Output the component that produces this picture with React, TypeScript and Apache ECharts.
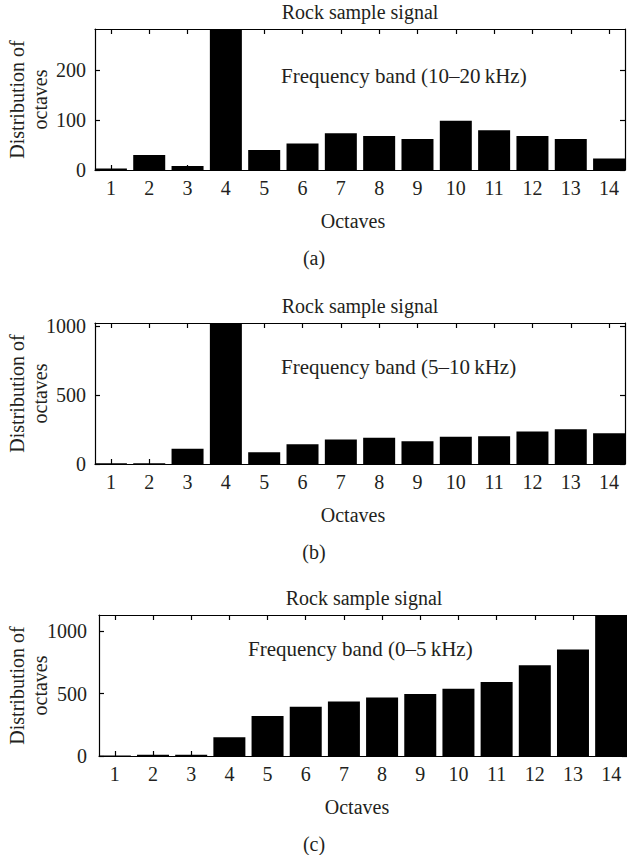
import React, { useEffect, useRef } from "react";
import * as echarts from "echarts";

const octaves = [1, 2, 3, 4, 5, 6, 7, 8, 9, 10, 11, 12, 13, 14];
const bandA = [3, 30, 8, 300, 40, 53, 74, 68, 62, 99, 80, 68, 62, 23];
const bandB = [5, 5, 111, 1100, 86, 143, 177, 190, 165, 197, 202, 236, 251, 222];
const bandC = [4, 10, 10, 150, 320, 394, 437, 469, 496, 539, 592, 727, 853, 1200];
const yTicksA = [0, 100, 200];
const yTicksB = [0, 500, 1000];
const yTicksC = [0, 500, 1000];
const titles = ["Rock sample signal", "Rock sample signal", "Rock sample signal"];
const bandLabels = ["Frequency band (10–20\u2009kHz)", "Frequency band (5–10\u2009kHz)", "Frequency band (0–5\u2009kHz)"];
const panelTags = ["(a)", "(b)", "(c)"];
const yMaxes = [283, 1022, 1128];

const FONT = '"Liberation Serif", "Times New Roman", "DejaVu Serif", serif';
const INK = "#231f20";

export default function App() {
  const ref = useRef<HTMLDivElement>(null);
  useEffect(() => {
    document.body.style.margin = "0";
    if (!ref.current) return;
    const chart = echarts.init(ref.current, undefined, { renderer: "svg" });

    const layouts = [
      { left: 95, top: 29, width: 530, height: 141, labelMargin: 9, annX: 281, annY: 76, octX: 353, tagX: 314 },
      { left: 95, top: 323, width: 530, height: 141, labelMargin: 9, annX: 281, annY: 367, octX: 353, tagX: 314 },
      { left: 99, top: 615, width: 530, height: 141, labelMargin: 12, annX: 248, annY: 649, octX: 357, tagX: 314 },
    ];
    const values = [bandA, bandB, bandC];
    const yTicks = [yTicksA, yTicksB, yTicksC];

    const grid: any[] = [];
    const xAxis: any[] = [];
    const yAxis: any[] = [];
    const series: any[] = [];
    const graphic: any[] = [];

    const lineStyle = { color: "#000", width: 1.2 };
    const textStyle = { fontFamily: FONT, fontSize: 20, color: INK };

    layouts.forEach((L, i) => {
      grid.push({ left: L.left, top: L.top, width: L.width, height: L.height, containLabel: false });
      const xBase = {
        type: "value",
        gridIndex: i,
        min: 0.585,
        max: 14.415,
        splitLine: { show: false },
        axisLine: { show: true, onZero: false, lineStyle },
        axisTick: { show: true, inside: true, length: 5, lineStyle, customValues: octaves },
      };
      xAxis.push({
        ...xBase,
        position: "bottom",
        axisLabel: { show: true, customValues: octaves, margin: 8, formatter: (v: number) => String(v), ...textStyle },
      });
      xAxis.push({ ...xBase, position: "top", axisLabel: { show: false } });
      const yBase = {
        type: "value",
        gridIndex: i,
        min: 0,
        max: yMaxes[i],
        splitLine: { show: false },
        axisLine: { show: true, onZero: false, lineStyle },
        axisTick: { show: true, inside: true, length: 5, lineStyle, customValues: yTicks[i] },
      };
      yAxis.push({
        ...yBase,
        position: "left",
        axisLabel: {
          show: true,
          customValues: yTicks[i],
          margin: L.labelMargin,
          formatter: (v: number) => String(v),
          ...textStyle,
        },
      });
      yAxis.push({ ...yBase, position: "right", axisLabel: { show: false } });

      series.push({
        type: "bar",
        xAxisIndex: i * 2,
        yAxisIndex: i * 2,
        barWidth: 32,
        clip: true,
        itemStyle: { color: "#000" },
        data: octaves.map((o, k) => [o, values[i][k]]),
      });

      const cx = L.left + L.width / 2;
      const bottom = L.top + L.height;
      graphic.push({
        type: "text",
        x: cx,
        y: L.top - 17,
        style: { text: titles[i], align: "center", verticalAlign: "middle", font: `20px ${FONT}`, fill: INK },
      });
      graphic.push({
        type: "text",
        x: L.annX,
        y: L.annY,
        style: { text: bandLabels[i], align: "left", verticalAlign: "middle", font: `21px ${FONT}`, fill: INK },
      });
      graphic.push({
        type: "text",
        x: L.octX,
        y: bottom + 51,
        style: { text: "Octaves", align: "center", verticalAlign: "middle", font: `20px ${FONT}`, fill: INK },
      });
      graphic.push({
        type: "text",
        x: L.tagX,
        y: bottom + 88,
        style: { text: panelTags[i], align: "center", verticalAlign: "middle", font: `20px ${FONT}`, fill: INK },
      });
      graphic.push({
        type: "text",
        x: 28.5,
        y: L.top + L.height / 2,
        rotation: Math.PI / 2,
        style: {
          text: "Distribution of\noctaves",
          align: "center",
          verticalAlign: "middle",
          lineHeight: 23,
          font: `20px ${FONT}`,
          fill: INK,
        },
      });
    });

    chart.setOption({
      animation: false,
      backgroundColor: "#fff",
      grid,
      xAxis,
      yAxis,
      series,
      graphic,
    });
    return () => chart.dispose();
  }, []);
  return (
    <div
      ref={ref}
      style={{ position: "absolute", left: 0, top: 0, width: 627, height: 855, background: "#fff" }}
    />
  );
}
